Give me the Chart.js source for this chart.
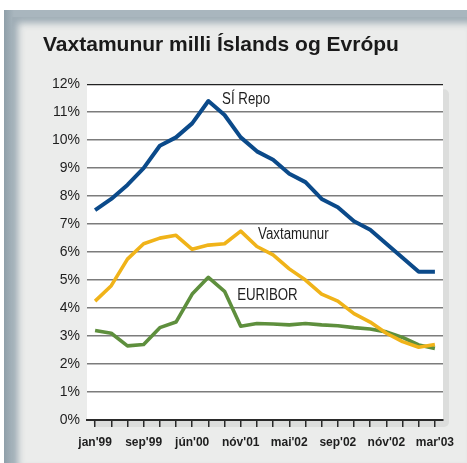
<!DOCTYPE html>
<html>
<head>
<meta charset="utf-8">
<script src="https://cdn.jsdelivr.net/npm/chart.js@4/dist/chart.umd.min.js"></script>
<style>
html,body{margin:0;padding:0;background:#fff;}
body{width:467px;height:463px;position:relative;overflow:hidden;}
#frame{position:absolute;top:10px;left:4px;right:0;bottom:0;background:#a4b2bb;
  background:linear-gradient(90deg,#8f9fa9 0px,#a9b6be 10px);}
#panel{position:absolute;top:17px;left:12px;right:0;bottom:0;background:#ebeceb;
  box-shadow:inset 6px 6px 7px rgba(150,165,175,0.9);}
#c{position:absolute;left:0;top:0;}
</style>
</head>
<body>
<div id="frame"></div>
<div id="panel"></div>
<canvas id="c" width="467" height="463"></canvas>
<script>
// ---- data ----
const categories = ["jan'99", "", "", "sep'99", "", "", "jún'00", "", "", "nóv'01", "", "",
                    "mai'02", "", "", "sep'02", "", "", "nóv'02", "", "", "mar'03"];
const siRepo     = [7.5, 7.9, 8.4, 9.0, 9.8, 10.1, 10.6, 11.4, 10.9, 10.1, 9.6, 9.3,
                    8.8, 8.5, 7.9, 7.6, 7.1, 6.8, 6.3, 5.8, 5.3, 5.3];
const vaxtamunur = [4.25, 4.8, 5.75, 6.3, 6.5, 6.6, 6.1, 6.25, 6.3, 6.75, 6.2, 5.9,
                    5.4, 5.0, 4.5, 4.25, 3.8, 3.5, 3.1, 2.8, 2.6, 2.7];
const euribor    = [3.2, 3.1, 2.65, 2.7, 3.3, 3.5, 4.5, 5.1, 4.6, 3.35, 3.45, 3.43,
                    3.4, 3.45, 3.4, 3.37, 3.3, 3.25, 3.15, 2.95, 2.68, 2.56];
const yTicks     = [0, 1, 2, 3, 4, 5, 6, 7, 8, 9, 10, 11, 12];
const seriesNames = ["SÍ Repo", "Vaxtamunur", "EURIBOR"];
const titleText  = "Vaxtamunur milli Íslands og Evrópu";

// series label anchors, in data units (category index, percent)
const seriesLabelAnchors = [
  {x: 7.85, y: 11.46},
  {x: 10.07, y: 6.61},
  {x: 8.78, y: 4.43}
];

const plotBg = {
  id: 'plotBg',
  beforeDraw(chart) {
    const {ctx, chartArea: a} = chart;
    ctx.save();
    ctx.fillStyle = '#dcdddc';
    ctx.beginPath();
    ctx.roundRect(a.left + 6, a.top + 5, a.right - a.left, a.bottom - a.top + 2, 5);
    ctx.fill();
    ctx.fillStyle = '#ffffff';
    ctx.fillRect(a.left, a.top, a.right - a.left, a.bottom - a.top);
    ctx.restore();
  }
};

const seriesLabels = {
  id: 'seriesLabels',
  afterDatasetsDraw(chart) {
    const {ctx, scales} = chart;
    ctx.save();
    ctx.font = '16px "Liberation Sans", Arial, sans-serif';
    ctx.fillStyle = '#1e1e1e';
    ctx.textAlign = 'left';
    ctx.textBaseline = 'middle';
    seriesNames.forEach((n, i) => {
      const a = seriesLabelAnchors[i];
      ctx.save();
      ctx.translate(scales.x.getPixelForValue(a.x), scales.y.getPixelForValue(a.y));
      ctx.scale(0.83, 1);
      ctx.fillText(n, 0, 0);
      ctx.restore();
    });
    ctx.restore();
  }
};

const colors = ['#0b4a8a', '#f0b319', '#5e8f3d'];
const series = [siRepo, vaxtamunur, euribor];

new Chart(document.getElementById('c'), {
  type: 'line',
  data: {
    labels: categories,
    datasets: series.map((d, i) => ({
      label: seriesNames[i],
      data: d,
      borderColor: colors[i],
      borderWidth: i === 0 ? 4 : 3.6,
      pointRadius: 0,
      tension: 0,
      fill: false,
      borderJoinStyle: 'round'
    }))
  },
  options: {
    responsive: false,
    devicePixelRatio: 1,
    animation: false,
    layout: {padding: {left: 43, right: 24, top: 0, bottom: 0}},
    plugins: {
      legend: {display: false},
      tooltip: {enabled: false},
      title: {
        display: true,
        text: titleText,
        align: 'start',
        color: '#1a1a1a',
        font: {family: '"Liberation Sans", Arial, sans-serif', size: 21, weight: 'bold', lineHeight: 1.2},
        padding: {top: 33, bottom: 26}
      }
    },
    scales: {
      x: {
        type: 'category',
        offset: true,
        grid: {
          offset: false,
          drawOnChartArea: false,
          drawTicks: true,
          tickLength: 7,
          color: '#2a2a2a',
          lineWidth: 1.5
        },
        border: {display: true, color: '#2a2a2a', width: 2},
        ticks: {
          autoSkip: false,
          maxRotation: 0,
          padding: 8,
          color: '#1e1e1e',
          font: {family: '"Liberation Sans", Arial, sans-serif', size: 12, weight: 'bold'}
        },
        afterFit(s) { s.height = 43; }
      },
      y: {
        min: 0,
        max: 12,
        afterBuildTicks(s) { s.ticks = yTicks.map(v => ({value: v})); },
        grid: {
          drawTicks: false,
          color: ctx => (ctx.tick && ctx.tick.value === 12) ? '#222' : '#7c7c7c',
          lineWidth: ctx => (ctx.tick && ctx.tick.value === 12) ? 1.2 : 1.5
        },
        border: {display: false},
        ticks: {
          padding: 7,
          color: '#1e1e1e',
          font: {family: '"Liberation Sans", Arial, sans-serif', size: 14},
          callback: v => v + '%'
        },
        afterFit(s) { s.width = 44; }
      }
    }
  },
  plugins: [plotBg, seriesLabels]
});
</script>
</body>
</html>
